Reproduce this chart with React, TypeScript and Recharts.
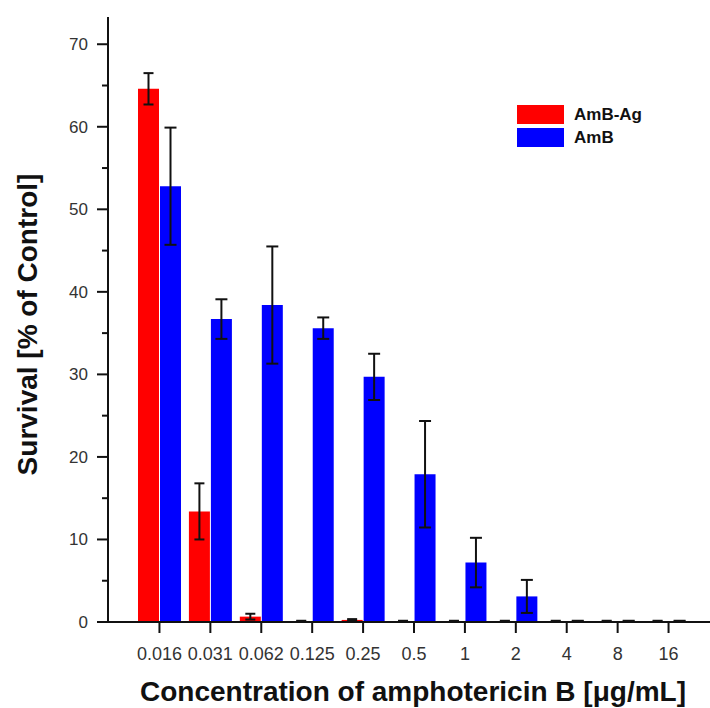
import { Bar, BarChart, ErrorBar, Label, XAxis, YAxis } from "recharts";

const concentrations = ["0.016", "0.031", "0.062", "0.125", "0.25", "0.5", "1", "2", "4", "8", "16"];
const amBAgSurvival = [64.6, 13.4, 0.65, 0.1, 0.25, 0.1, 0.1, 0.1, 0.1, 0.1, 0.1];
const amBAgError = [1.9, 3.4, 0.35, 0.05, 0.1, 0.05, 0.05, 0.05, 0.05, 0.05, 0.05];
const amBSurvival = [52.8, 36.7, 38.4, 35.6, 29.7, 17.9, 7.2, 3.1, 0.1, 0.1, 0.1];
const amBError = [7.1, 2.4, 7.1, 1.3, 2.8, 6.45, 3.0, 2.0, 0.05, 0.05, 0.05];
const yTicks = [0, 5, 10, 15, 20, 25, 30, 35, 40, 45, 50, 55, 60, 65, 70];

const seriesNames = ["AmB-Ag", "AmB"];
const seriesColors = ["#ff0000", "#0000ff"];

const data = concentrations.map((c, i) => ({
  conc: c,
  amBAg: amBAgSurvival[i],
  amBAgErr: amBAgError[i],
  amB: amBSurvival[i],
  amBErr: amBError[i],
}));

const FONT = "'Liberation Sans', Arial, sans-serif";

function YTick(props: any) {
  const { x, y, payload } = props;
  const major = payload.value % 10 === 0;
  return (
    <g>
      <line x1={x - (major ? 11 : 6)} x2={x} y1={y} y2={y} stroke="#111" strokeWidth={2} />
      {major && (
        <text x={x - 20} y={y} dy="0.35em" textAnchor="end" fontSize={17} fill="#333" fontFamily={FONT}>
          {payload.value}
        </text>
      )}
    </g>
  );
}

function XTick(props: any) {
  const { x, y, payload } = props;
  return (
    <g>
      <line x1={x} x2={x} y1={y} y2={y + 11} stroke="#111" strokeWidth={2} />
      <text x={x} y={y + 38} textAnchor="middle" fontSize={18} fill="#333" fontFamily={FONT}>
        {payload.value}
      </text>
    </g>
  );
}

// legend sits inside the plot, top right
function LegendBox() {
  return (
    <div style={{ position: "absolute", left: 517, top: 103, fontFamily: FONT }}>
      {seriesNames.map((name, i) => (
        <div key={name} style={{ display: "flex", alignItems: "center", height: 23 }}>
          <div style={{ width: 47, height: 19, background: seriesColors[i], marginRight: 10 }} />
          <span style={{ fontSize: 17, fontWeight: "bold", color: "#111" }}>{name}</span>
        </div>
      ))}
    </div>
  );
}

export default function App() {
  return (
    <div style={{ position: "absolute", left: 0, top: 0, width: 710, height: 708, background: "#fff" }}>
      <BarChart
        width={710}
        height={708}
        data={data}
        margin={{ top: 17, right: 0, left: 0, bottom: 0 }}
        barSize={21}
        barGap={1}
      >
        <XAxis
          dataKey="conc"
          height={86}
          padding={{ left: 26, right: 16 }}
          axisLine={{ stroke: "#111", strokeWidth: 2 }}
          tickLine={false}
          tickSize={0}
          tickMargin={0}
          tick={<XTick />}
          interval={0}
        >
          <Label
            content={(p: any) => {
              const vb = p.viewBox;
              return (
                <text
                  x={vb.x + vb.width / 2 + 4}
                  y={vb.y + 79}
                  textAnchor="middle"
                  fontSize={28}
                  fontWeight="bold"
                  fill="#111"
                  fontFamily={FONT}
                >
                  Concentration of amphotericin B [μg/mL]
                </text>
              );
            }}
          />
        </XAxis>
        <YAxis
          width={108}
          domain={[0, 73.3]}
          ticks={yTicks}
          allowDataOverflow
          axisLine={{ stroke: "#111", strokeWidth: 2 }}
          tickLine={false}
          tickSize={0}
          tickMargin={0}
          tick={<YTick />}
          interval={0}
        >
          <Label
            content={(p: any) => {
              const vb = p.viewBox;
              const cy = vb.y + vb.height / 2 + 5;
              return (
                <text
                  x={37}
                  y={cy}
                  transform={`rotate(-90, 37, ${cy})`}
                  textAnchor="middle"
                  fontSize={28}
                  fontWeight="bold"
                  fill="#111"
                  fontFamily={FONT}
                >
                  Survival [% of Control]
                </text>
              );
            }}
          />
        </YAxis>
        <Bar dataKey="amBAg" name={seriesNames[0]} fill={seriesColors[0]} isAnimationActive={false}>
          <ErrorBar dataKey="amBAgErr" width={5} stroke="#111" strokeWidth={2} />
        </Bar>
        <Bar dataKey="amB" name={seriesNames[1]} fill={seriesColors[1]} isAnimationActive={false}>
          <ErrorBar dataKey="amBErr" width={6} stroke="#111" strokeWidth={2} />
        </Bar>
      </BarChart>
      <LegendBox />
    </div>
  );
}
